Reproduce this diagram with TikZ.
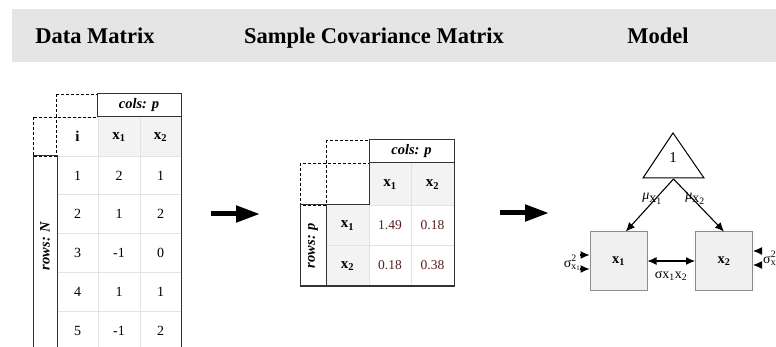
\documentclass[tikz,border=0pt]{standalone}
\usepackage{fontspec}
\setmainfont{Liberation Serif}
\usetikzlibrary{arrows.meta}
\definecolor{bannergray}{HTML}{E5E5E5}
\definecolor{cellgray}{HTML}{F3F3F3}
\definecolor{gridgray}{HTML}{E3E3E3}
\definecolor{boxgray}{HTML}{F0F0F0}
\definecolor{edgegray}{HTML}{8C8C8C}
\definecolor{valred}{HTML}{5A1E1E}
\tikzset{
  title/.style={font=\fontsize{22.5}{26}\selectfont\bfseries, anchor=base, inner sep=0pt},
  cell/.style={font=\fontsize{14}{16}\selectfont, inner sep=0pt},
  headcell/.style={font=\fontsize{15}{17}\selectfont\bfseries, inner sep=0pt},
  tag/.style={font=\fontsize{14.5}{16}\selectfont\bfseries\itshape, inner sep=0pt},
  dashbox/.style={line width=0.8pt, dash pattern=on 3pt off 2pt},
  darkline/.style={line width=1pt, black!80},
  gridline/.style={line width=0.6pt, gridgray},
  bigarrow/.style={line width=5pt, -{Triangle[length=24pt,width=16pt]}},
  varbox/.style={draw=edgegray, fill=boxgray, line width=1pt, minimum width=57pt,
    minimum height=58pt, inner sep=0pt, font=\fontsize{14.5}{16}\selectfont\bfseries},
  modelarrow/.style={line width=1.1pt, -{Latex[length=9pt,width=8pt]}},
  lbl/.style={font=\fontsize{14}{16}\selectfont, inner sep=0pt}
}
\begin{document}
\begin{tikzpicture}[x=1pt,y=-1pt]
\clip (0,0) rectangle (776,347);
% banner
\fill [bannergray] (12,9) rectangle (776,62);
\node [title] (tdata) at (95,44) {Data Matrix};
\node [title] (tcov) at (374,44) {Sample Covariance Matrix};
\node [title] (tmodel) at (658,44) {Model};
% data matrix
\fill [cellgray] (98,117) rectangle (181,156);
\foreach \y in {156,194.8,233.6,272.4,311.2}
  \draw [gridline] (57,\y) -- (181,\y);
\draw [gridline] (57,117) -- (98,117);
\draw [gridline] (98,117) -- (98,350);
\draw [gridline] (140,117) -- (140,350);
\draw [dashbox] (56,94) rectangle (97,117);
\draw [dashbox] (33,117) rectangle (56,156);
\draw [darkline] (97,94) rectangle (181,117);
\node [tag] (dcols) at (139,105.5) {cols: p};
\draw [darkline] (181,117) -- (181,350);
\draw [darkline] (33,156) rectangle (57,350);
\node [tag, rotate=90] (drows) at (45,246) {rows: N};
\node [headcell] (d-0-0) at (77.5,136.5) {i};
\node [headcell] (d-0-1) at (119,137) {x\textsubscript{1}};
\node [headcell] (d-0-2) at (160.5,137) {x\textsubscript{2}};
\foreach \i/\a/\b [count=\r] in {1/2/1, 2/1/2, 3/-1/0, 4/1/1, 5/-1/2} {
  \node [cell] (d-\r-0) at (77.5,136.6+38.8*\r) {\i};
  \node [cell] (d-\r-1) at (119,136.6+38.8*\r) {\a};
  \node [cell] (d-\r-2) at (160.5,136.6+38.8*\r) {\b};
}
% arrows between panels
\coordinate (a1s) at (211,214);
\coordinate (a1e) at (260,214);
\draw [bigarrow] (a1s) -- (a1e);
\coordinate (a2s) at (500,213);
\coordinate (a2e) at (549,213);
\draw [bigarrow] (a2s) -- (a2e);
% covariance matrix
\fill [cellgray] (369,163) rectangle (454,205);
\fill [cellgray] (326,205) rectangle (369,286);
\draw [gridline] (369,205) -- (454,205);
\draw [gridline] (326,245) -- (454,245);
\draw [gridline] (411,163) -- (411,286);
\draw [gridline] (369,205) -- (369,286);
\draw [dashbox] (326,140) rectangle (369,163);
\draw [dashbox] (300,163) rectangle (326,205);
\draw [darkline] (369,140) rectangle (454,163);
\node [tag] (ccols) at (411.5,151.5) {cols: p};
\draw [darkline] (326,205) -- (369,205) -- (369,163);
\draw [darkline] (454,163) -- (454,286) -- (326,286);
\draw [darkline] (300,205) rectangle (326,286);
\node [tag, rotate=90] (crows) at (313,245.5) {rows: p};
\node [headcell] (c-0-1) at (390,184.5) {x\textsubscript{1}};
\node [headcell] (c-0-2) at (432.5,184.5) {x\textsubscript{2}};
\node [headcell] (c-1-0) at (347.5,225.5) {x\textsubscript{1}};
\node [headcell] (c-2-0) at (347.5,266) {x\textsubscript{2}};
\node [cell, valred, font=\fontsize{13.5}{16}\selectfont] (c-1-1) at (390,225) {1.49};
\node [cell, valred, font=\fontsize{13.5}{16}\selectfont] (c-1-2) at (432.5,225) {0.18};
\node [cell, valred, font=\fontsize{13.5}{16}\selectfont] (c-2-1) at (390,265.5) {0.18};
\node [cell, valred, font=\fontsize{13.5}{16}\selectfont] (c-2-2) at (432.5,265.5) {0.38};
% model
\draw [line width=1pt] (643,178) -- (673,133) -- (704,178) -- cycle;
\node [cell, font=\fontsize{15}{17}\selectfont] (one) at (673,158) {1};
\coordinate (tri) at (673.5,179);
\node [varbox] (bx1) at (618.5,261) {x\textsubscript{1}};
\node [varbox] (bx2) at (724,261) {x\textsubscript{2}};
\draw [modelarrow] (tri) -- (bx1.76);
\draw [modelarrow] (tri) -- (bx2.north);
\node [lbl] (mu1) at (652,199) {\textit{μ}\raisebox{-2.5pt}{x\textsubscript{1}}};
\node [lbl] (mu2) at (695,199) {\textit{μ}\raisebox{-2.5pt}{x\textsubscript{2}}};
\draw [modelarrow, {Latex[length=9pt,width=8pt]}-{Latex[length=9pt,width=8pt]}] (bx1.east) -- (bx2.west);
\node [lbl] (cov12) at (671,276) {σx\textsubscript{1}x\textsubscript{2}};
\coordinate (v1a) at (580,255);
\coordinate (v1b) at (580,269);
\draw [modelarrow] (v1a) -- (bx1.west |- v1a);
\draw [modelarrow] (v1b) -- (bx1.west |- v1b);
\node [lbl, anchor=east] (var1) at (581,263) {σ\rlap{\textsuperscript{2}}\textsubscript{x\textsubscript{1}}};
\coordinate (v2a) at (762,251);
\coordinate (v2b) at (762,265);
\draw [modelarrow] (v2a) -- (bx2.east |- v2a);
\draw [modelarrow] (v2b) -- (bx2.east |- v2b);
\node [lbl, anchor=west] (var2) at (763,259) {σ\rlap{\textsuperscript{2}}\textsubscript{x\textsubscript{2}}};
\end{tikzpicture}
\end{document}
